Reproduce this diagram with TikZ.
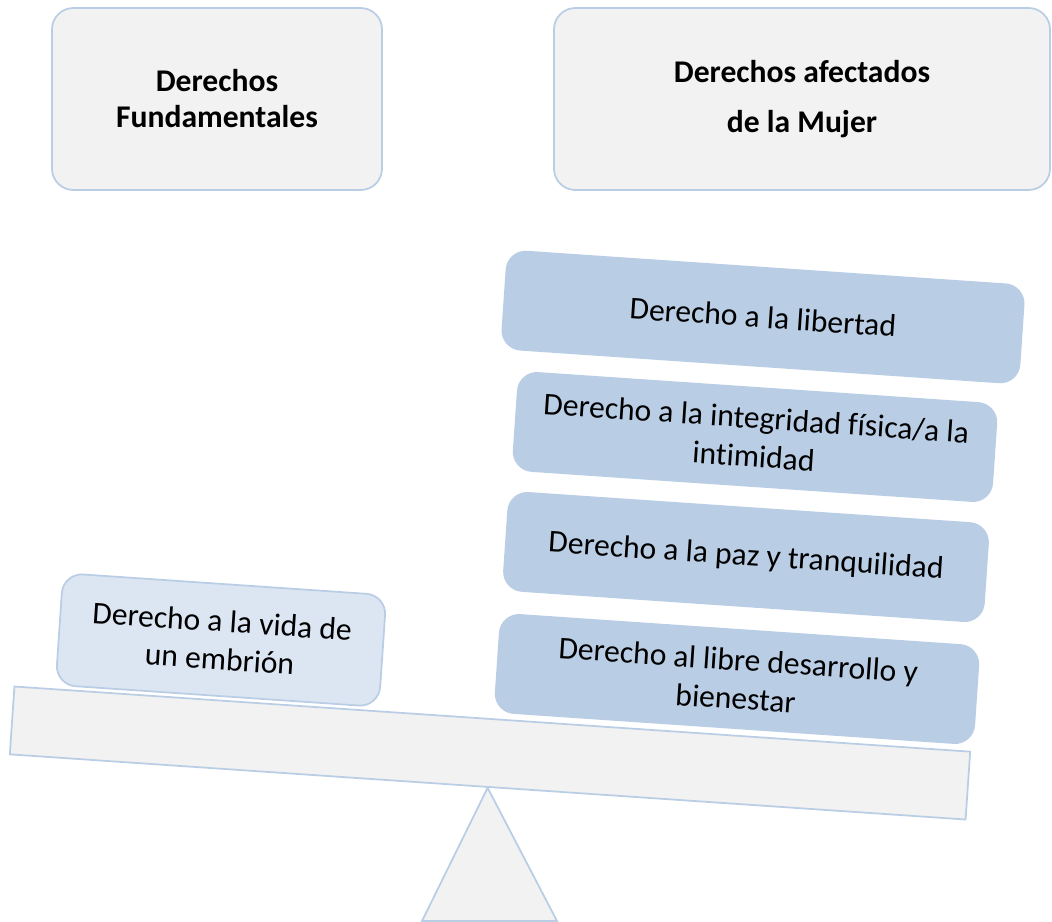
\documentclass[tikz,border=0pt]{standalone}
\usepackage{fontspec}
\setmainfont[Ligatures=NoCommon]{Carlito}
\usepackage{tikz}
\usetikzlibrary{shapes,positioning,calc}

\definecolor{edgeblue}{HTML}{B9CDE5}
\definecolor{weightblue}{HTML}{B9CDE5}
\definecolor{paleblue}{HTML}{DCE6F2}
\definecolor{panelgray}{HTML}{F2F2F2}

\begin{document}
\begin{tikzpicture}[
    x=0.75pt, y=-0.75pt,
    header/.style={rectangle, draw=edgeblue, fill=panelgray, line width=1.3pt, rounded corners=16pt, align=center, font=\fontsize{23.7}{27}\selectfont\bfseries},
    weight/.style={rectangle, fill=weightblue, rounded corners=15pt, align=center, minimum height=75pt, rotate=-3.9, font=\fontsize{23.7}{29}\selectfont},
    embryo/.style={rectangle, draw=edgeblue, fill=paleblue, line width=1.3pt, rounded corners=15pt, align=center, rotate=-3.9, font=\fontsize{23.7}{28.5}\selectfont},
    beam/.style={rectangle, draw=edgeblue, fill=panelgray, line width=1.3pt, rotate=-3.9},
    pivot/.style={draw=edgeblue, fill=panelgray, line width=1.3pt, line join=miter}
]
\useasboundingbox (0,0) rectangle (1052,921);

% ============ CABECERAS ============
\node[header, minimum width=247.5pt, minimum height=136.5pt] (fund-header) at (217,99) {Derechos\\Fundamentales};
\node[header, minimum width=372pt, minimum height=136.5pt, font=\fontsize{23.7}{37}\selectfont\bfseries] (mujer-header) at (802,99) {Derechos afectados\\de la Mujer};

% ============ BALANZA ============
\node[beam, minimum width=718.5pt, minimum height=51pt] (balance-beam) at (490,753) {};
\coordinate (pivot-left) at (422,921);
\coordinate (pivot-right) at (557,921);
\draw[pivot] (balance-beam.south) -- (pivot-right) -- (pivot-left) -- cycle;

% ============ PLATO IZQUIERDO ============
\node[embryo, minimum width=243pt, minimum height=84pt] (vida-embrion) at (221,640) {Derecho a la vida de\\un embrión};

% ============ PLATO DERECHO ============
\node[weight, minimum width=390pt] (libertad) at (763,317) {Derecho a la libertad};
\node[weight, minimum width=361pt] (integridad) at (755,437) {Derecho a la integridad física/a la\\intimidad};
\node[weight, minimum width=362pt] (paz) at (746,557) {Derecho a la paz y tranquilidad};
\node[weight, minimum width=361pt] (desarrollo) at (737,679) {Derecho al libre desarrollo y\\bienestar};

\end{tikzpicture}
\end{document}
